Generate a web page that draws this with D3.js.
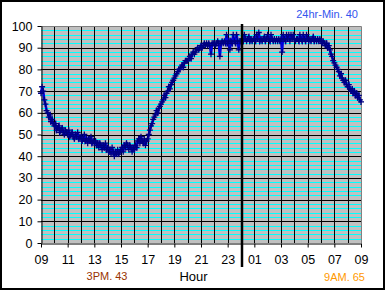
<!DOCTYPE html>
<html lang="en">
<head>
<meta charset="utf-8">
<title>24hr temperature</title>
<script src="https://d3js.org/d3.v7.min.js"></script>
<style type="text/css">
  body { margin: 0; background: white; }
  svg text { font-family: "Liberation Sans", Arial, sans-serif; }
</style>
</head>
<body>
<script type="text/javascript">
// hour labels under the axis, one every 2 hours starting 09:00
var tickLabels = ["09","11","13","15","17","19","21","23","01","03","05","07","09"];

// readings every 5 minutes from 09:00 to 09:00 next day (one row per hour)
var temps = [
  69, 72, 70, 66, 64, 61, 60, 58, 59, 56, 57, 55,   // 09
  54, 55, 52, 53, 54, 51, 52, 53, 51, 50, 52, 51,   // 10
  50, 52, 49, 50, 51, 49, 48, 50, 49, 51, 48, 49,   // 11
  49, 47, 48, 50, 47, 48, 46, 48, 47, 49, 46, 47,   // 12
  46, 47, 45, 46, 44, 46, 45, 43, 45, 44, 46, 43,   // 13
  44, 42, 43, 41, 44, 42, 40, 42, 41, 43, 41, 42,   // 14
  43, 44, 42, 45, 44, 46, 45, 43, 45, 44, 42, 44,   // 15
  43, 45, 44, 47, 48, 46, 49, 47, 46, 48, 45, 47,   // 16
  48, 50, 52, 54, 55, 57, 58, 59, 61, 60, 62, 63,   // 17
  64, 65, 66, 68, 67, 69, 70, 72, 71, 73, 74, 75,   // 18
  76, 77, 78, 79, 80, 80, 81, 82, 81, 83, 84, 84,   // 19
  84, 85, 86, 85, 87, 88, 87, 88, 89, 90, 89, 90,   // 20
  91, 90, 91, 92, 91, 92, 91, 92, 91, 87, 92, 92,   // 21
  92, 91, 92, 93, 92, 86, 92, 93, 92, 93, 92, 96,   // 22
  92, 93, 89, 93, 92, 96, 93, 92, 96, 93, 89, 93,   // 23
  93, 94, 93, 96, 94, 93, 94, 95, 93, 94, 93, 94,   // 00
  94, 93, 96, 94, 97, 93, 94, 93, 94, 95, 93, 94,   // 01
  96, 94, 93, 96, 94, 93, 94, 93, 94, 93, 94, 93,   // 02
  94, 88, 96, 94, 93, 96, 94, 96, 93, 96, 94, 96,   // 03
  94, 93, 94, 94, 93, 96, 94, 93, 96, 94, 93, 96,   // 04
  94, 93, 94, 93, 94, 95, 93, 94, 93, 94, 93, 94,   // 05
  93, 92, 93, 92, 91, 92, 90, 91, 89, 87, 86, 84,   // 06
  83, 82, 81, 80, 79, 77, 78, 76, 75, 74, 75, 73,   // 07
  72, 73, 71, 70, 71, 69, 70, 68, 69, 67, 68, 66,   // 08
  65                                                // 09
];
var stepHours = 5 / 60;
var midnightHour = 15;   // hours after 09:00

var notes = [
  {text: "24hr-Min. 40", color: "#3355ee"},
  {text: "3PM. 43", color: "#993300"},
  {text: "9AM. 65", color: "#ff9900"}
];

var w = 385, h = 290;
var pLeft = 41, pRight = 361, pTop = 26, pBottom = 243;

var x = d3.scaleLinear().domain([0, 24]).range([pLeft, pRight]);
var y = d3.scaleLinear().domain([0, 100]).range([pBottom, pTop]);

var svg = d3.select("body").append("svg")
    .attr("width", w)
    .attr("height", h);

// outer frame
svg.append("rect")
    .attr("x", 1).attr("y", 1)
    .attr("width", w - 2).attr("height", h - 2)
    .attr("fill", "white")
    .attr("stroke", "black")
    .attr("stroke-width", 2);

// plot background
svg.append("rect")
    .attr("x", pLeft).attr("y", pTop)
    .attr("width", pRight - pLeft).attr("height", pBottom - pTop)
    .attr("fill", "#c0c0c0");

// minor gridlines (cyan) every 2 units
svg.append("g").selectAll("line")
    .data(d3.range(0, 101, 2).filter(function(v) { return v % 10 != 0; }))
    .enter().append("line")
    .attr("x1", pLeft).attr("x2", pRight)
    .attr("y1", function(d) { return Math.round(y(d)) + 0.5; })
    .attr("y2", function(d) { return Math.round(y(d)) + 0.5; })
    .attr("stroke", "#00ffff")
    .attr("stroke-width", 1);

// major gridlines (black)
svg.append("g").selectAll("line")
    .data(d3.range(10, 100, 10))
    .enter().append("line")
    .attr("x1", pLeft).attr("x2", pRight)
    .attr("y1", function(d) { return Math.round(y(d)) + 0.5; })
    .attr("y2", function(d) { return Math.round(y(d)) + 0.5; })
    .attr("stroke", "black");

// hour gridlines
svg.append("g").selectAll("line")
    .data(d3.range(1, 24))
    .enter().append("line")
    .attr("x1", function(d) { return Math.round(x(d)) + 0.5; })
    .attr("x2", function(d) { return Math.round(x(d)) + 0.5; })
    .attr("y1", pTop).attr("y2", pBottom)
    .attr("stroke", "black");

// plot border top/right
svg.append("path")
    .attr("d", "M" + pLeft + "," + (pTop + 0.5) + "H" + (pRight + 0.5) + "V" + pBottom)
    .attr("fill", "none")
    .attr("stroke", "#808080");

// axes
var yAxis = d3.axisLeft(y)
    .tickValues(d3.range(0, 101, 10))
    .tickSize(4).tickSizeOuter(0).tickPadding(5);
var xAxis = d3.axisBottom(x)
    .tickValues(d3.range(0, 25, 2))
    .tickFormat(function(d) { return tickLabels[d / 2]; })
    .tickSize(4).tickSizeOuter(0).tickPadding(8);

var gy = svg.append("g").attr("transform", "translate(" + (pLeft + 0.5) + ",0)").call(yAxis);
var gx = svg.append("g").attr("transform", "translate(0," + (pBottom + 0.5) + ")").call(xAxis);
[gy, gx].forEach(function(g) {
  g.selectAll("path, line").attr("stroke", "black");
  g.selectAll("text").attr("fill", "black").style("font-size", "12.5px");
});

svg.append("text")
    .attr("x", 193.5).attr("y", 281)
    .attr("text-anchor", "middle")
    .style("font-size", "13px")
    .text("Hour");

// the data
var line = d3.line()
    .x(function(d, i) { return x(i * stepHours); })
    .y(function(d) { return y(d); });

svg.append("path")
    .datum(temps)
    .attr("d", line)
    .attr("fill", "none")
    .attr("stroke", "#0000dd")
    .attr("stroke-width", 2.5);

svg.append("g").selectAll("path")
    .data(temps)
    .enter().append("path")
    .attr("transform", function(d, i) { return "translate(" + x(i * stepHours) + "," + y(d) + ")"; })
    .attr("d", "M-3,0H3M0,-3V3")
    .attr("stroke", "#000080")
    .attr("stroke-width", 1.3);

// midnight marker
svg.append("line")
    .attr("x1", x(midnightHour) + 1).attr("x2", x(midnightHour) + 1)
    .attr("y1", 24).attr("y2", 267)
    .attr("stroke", "black")
    .attr("stroke-width", 2.5);

// min / 3PM / 9AM notes
svg.append("text").attr("x", 358).attr("y", 18).attr("text-anchor", "end")
    .attr("fill", notes[0].color).style("font-size", "11px").text(notes[0].text);
svg.append("text").attr("x", 107).attr("y", 280).attr("text-anchor", "middle")
    .attr("fill", notes[1].color).style("font-size", "11px").text(notes[1].text);
svg.append("text").attr("x", 344.5).attr("y", 281).attr("text-anchor", "middle")
    .attr("fill", notes[2].color).style("font-size", "11px").text(notes[2].text);
</script>
</body>
</html>
